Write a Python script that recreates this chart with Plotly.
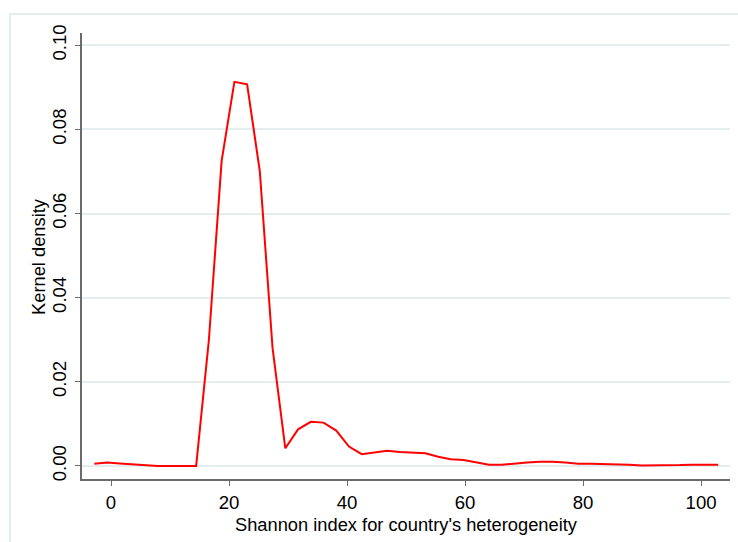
import plotly.graph_objects as go

# Kernel density evaluation grid (50 points) and density values
shannon_x = [-2.83, -0.67, 1.49, 3.64, 5.80, 7.96, 10.12, 12.28, 14.43, 16.59,
             18.75, 20.91, 23.07, 25.22, 27.38, 29.54, 31.70, 33.86, 36.01, 38.17,
             40.33, 42.49, 44.65, 46.80, 48.96, 51.12, 53.28, 55.44, 57.59, 59.75,
             61.91, 64.07, 66.23, 68.38, 70.54, 72.70, 74.86, 77.02, 79.17, 81.33,
             83.49, 85.65, 87.81, 89.96, 92.12, 94.28, 96.44, 98.60, 100.75, 102.91]
density = [0.0005, 0.0008, 0.0006, 0.0004, 0.0001, 0.0, 0.0, 0.0, 0.0, 0.0300,
           0.0725, 0.0913, 0.0907, 0.0700, 0.0280, 0.0042, 0.0087, 0.0105, 0.0103, 0.0084,
           0.0046, 0.0028, 0.0032, 0.0036, 0.0033, 0.0031, 0.0030, 0.0022, 0.0016, 0.0014,
           0.0008, 0.0003, 0.0003, 0.0006, 0.0008, 0.0010, 0.0010, 0.0008, 0.00055, 0.00055,
           0.0005, 0.0003, 0.0003, 0.0001, 0.0001, 0.0001, 0.0002, 0.0003, 0.0003, 0.0003]

x_ticks = [0, 20, 40, 60, 80, 100]
y_ticks = [0.00, 0.02, 0.04, 0.06, 0.08, 0.10]
y_tick_labels = ["0.00", "0.02", "0.04", "0.06", "0.08", "0.10"]

x_title = "Shannon index for country's heterogeneity"
y_title = "Kernel density"

font_family = "Liberation Sans, Arial, sans-serif"
tick_size = 18.6
title_size = 18.3

fig = go.Figure()
fig.add_trace(go.Scatter(
    x=shannon_x, y=density, mode="lines",
    line=dict(color="#ff0000", width=2),
    showlegend=False, hoverinfo="x+y",
))

fig.update_layout(
    width=738, height=542,
    margin=dict(l=82, r=8, t=33, b=63),
    paper_bgcolor="white", plot_bgcolor="white",
    font=dict(family=font_family, size=tick_size, color="#000000"),
    xaxis=dict(
        range=[-4.915, 104.9], tickmode="array", tickvals=x_ticks,
        showgrid=False, zeroline=False,
        showline=True, linecolor="#6b6b6b", linewidth=1.5,
        ticks="outside", ticklen=5, tickwidth=1.2, tickcolor="#6b6b6b",
        ticklabelstandoff=1,
        tickfont=dict(size=tick_size, family=font_family, color="#000"),
    ),
    yaxis=dict(
        range=[-0.0031, 0.1029], tickmode="array", tickvals=y_ticks, ticktext=y_tick_labels,
        tickangle=-90,
        showgrid=True, gridcolor="#e4eef0", gridwidth=1.6, zeroline=False,
        showline=True, linecolor="#6b6b6b", linewidth=1.5,
        ticks="outside", ticklen=5, tickwidth=1.2, tickcolor="#6b6b6b",
        ticklabelstandoff=2,
        tickfont=dict(size=tick_size, family=font_family, color="#000"),
    ),
    annotations=[
        dict(text=x_title, xref="paper", yref="paper", x=0.5, y=-0.074,
             xanchor="center", yanchor="top", showarrow=False,
             font=dict(size=title_size, family=font_family, color="#000")),
        dict(text=y_title, xref="paper", yref="paper", x=-0.068, y=0.5,
             xanchor="center", yanchor="middle", textangle=-90, showarrow=False,
             font=dict(size=title_size, family=font_family, color="#000")),
    ],
    shapes=[
        dict(type="rect", xref="paper", yref="paper",
             x0=-0.111, x1=1.03, y0=-0.16, y1=1.0426,
             line=dict(color="#e4eef0", width=2), fillcolor="rgba(0,0,0,0)", layer="below"),
    ],
)

fig.write_html("out.html")
